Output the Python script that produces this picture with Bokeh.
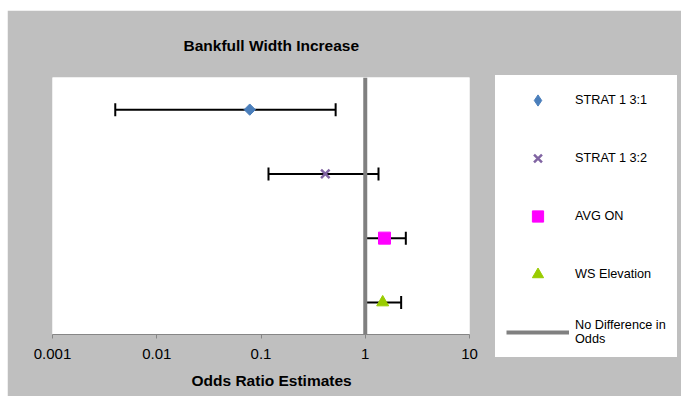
from bokeh.plotting import figure
from bokeh.models import (Range1d, FixedTicker, NumeralTickFormatter, Whisker,
                          ColumnDataSource, Legend, LegendItem, Title)
from bokeh.embed import file_html
from bokeh.resources import INLINE

# ---- data ----
series = ["STRAT 1 3:1", "STRAT 1 3:2", "AVG ON", "WS Elevation"]
estimates = [0.078, 0.414, 1.53, 1.47]
lower_ci = [0.004, 0.118, 1.0, 1.0]
upper_ci = [0.52, 1.34, 2.45, 2.21]
y_pos = [3.5, 2.5, 1.5, 0.5]
x_ticks = [0.001, 0.01, 0.1, 1, 10]
ref_label = "No Difference in\nOdds"
title_text = "Bankfull Width Increase"
xlabel_text = "Odds Ratio Estimates"

GRAY_BG = "#BFBFBF"
FONT = "Liberation Sans"

p = figure(frame_width=417, frame_height=257, x_axis_type="log",
           x_range=Range1d(0.001, 10), y_range=Range1d(0, 4),
           output_backend="svg", toolbar_location=None,
           min_border_left=45, min_border_right=211,
           min_border_top=66, min_border_bottom=63)
p.margin = (10, 0, 0, 7)
p.background_fill_color = "white"
p.border_fill_color = GRAY_BG
p.outline_line_color = None
p.xgrid.visible = False
p.ygrid.visible = False
p.yaxis.visible = False

ax = p.xaxis[0]
ax.ticker = FixedTicker(ticks=x_ticks, minor_ticks=[])
ax.formatter = NumeralTickFormatter(format="0.[000]")
ax.axis_line_color = "#868686"
ax.major_tick_line_color = "#868686"
ax.major_tick_in = 0
ax.major_tick_out = 4
ax.minor_tick_line_color = None
ax.major_label_text_font = FONT
ax.major_label_text_font_size = "15px"
ax.major_label_text_color = "black"
ax.major_label_standoff = 10

# error bars
src = ColumnDataSource(dict(y=y_pos, lo=lower_ci, hi=upper_ci, est=estimates))
wh = Whisker(source=src, base="y", lower="lo", upper="hi", dimension="width",
             line_color="black", line_width=2)
for h in (wh.upper_head, wh.lower_head):
    h.size = 13
    h.line_width = 2
    h.line_color = "black"
p.add_layout(wh)

# reference line at 1
ref = p.line(x=[1, 1], y=[0, 4], line_color="#808080", line_width=4)

colors = ["#4A7EBB", "#8064A2", "#FF00FF", "#99CC00"]
r0 = p.scatter(x=[estimates[0]], y=[y_pos[0]], marker="square", angle=0.785398,
               size=8, fill_color=colors[0], line_color=colors[0])
# diamond used only for the legend swatch (zero size in the plot)
r0_leg = p.scatter(x=[estimates[0]], y=[y_pos[0]], marker="diamond", size=0,
                   fill_color=colors[0], line_color=colors[0])
r1 = p.scatter(x=[estimates[1]], y=[y_pos[1]], marker="x", size=12,
               line_color=colors[1], line_width=2.5)
r2 = p.scatter(x=[estimates[2]], y=[y_pos[2]], marker="square", size=12,
               fill_color=colors[2], line_color=colors[2])
r3 = p.scatter(x=[estimates[3]], y=[y_pos[3]], marker="triangle", size=12,
               fill_color=colors[3], line_color=colors[3])

legend = Legend(items=[
    LegendItem(label=series[0], renderers=[r0_leg]),
    LegendItem(label=series[1], renderers=[r1]),
    LegendItem(label=series[2], renderers=[r2]),
    LegendItem(label=series[3], renderers=[r3]),
    LegendItem(label=ref_label, renderers=[ref]),
], location=(26, -23))
legend.background_fill_color = "white"
legend.background_fill_alpha = 1
legend.border_line_color = "white"
legend.border_line_width = 1
legend.padding = 10
legend.margin = 0
legend.glyph_width = 63
legend.glyph_height = 28
legend.label_height = 28
legend.spacing = 30
legend.label_standoff = 6
legend.label_text_font = FONT
legend.label_text_font_size = "12.7px"
legend.label_text_color = "black"
legend.label_text_line_height = 1.6
p.add_layout(legend, "right")

p.title = Title(text=title_text, align="left", offset=131, standoff=48,
                vertical_align="bottom", text_font=FONT, text_font_size="15.5px",
                text_font_style="bold", text_color="black")
p.add_layout(Title(text=xlabel_text, align="left", offset=139, standoff=20,
                   vertical_align="top", text_font=FONT, text_font_size="15.5px",
                   text_font_style="bold", text_color="black"), "below")

open("out.html", "w").write(file_html(p, INLINE))
